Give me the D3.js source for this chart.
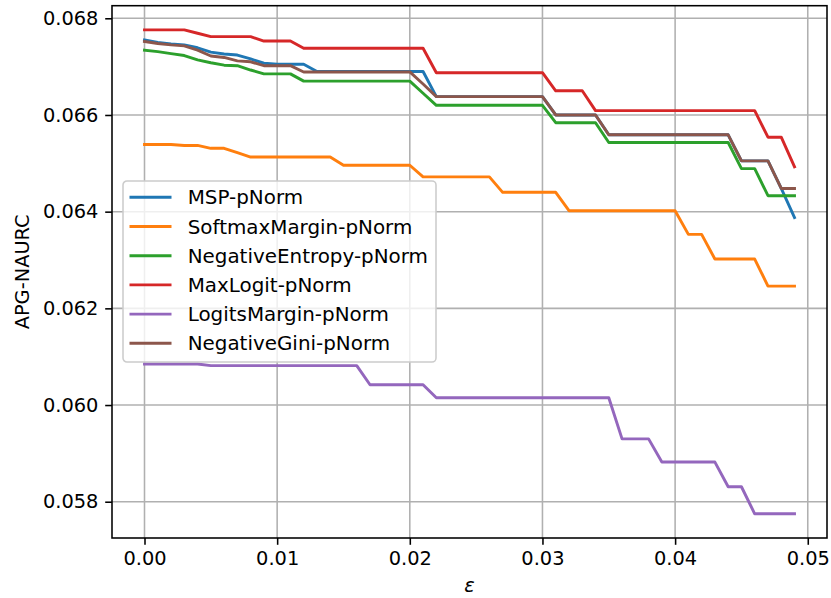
<!DOCTYPE html>
<html>
<head>
<meta charset="utf-8">
<script src="https://cdn.jsdelivr.net/npm/d3@7"></script>
<style>
  body { margin: 0; background: #fff; }
  svg { display: block; font-family: "DejaVu Sans", sans-serif; }
</style>
</head>
<body>
<svg id="chart" width="831" height="598"></svg>
<script>
const epsilons = d3.range(50).map(i => i / 1000);

const seriesNames = ["MSP-pNorm", "SoftmaxMargin-pNorm", "NegativeEntropy-pNorm",
                     "MaxLogit-pNorm", "LogitsMargin-pNorm", "NegativeGini-pNorm"];
const seriesColors = ["#1f77b4", "#ff7f0e", "#2ca02c", "#d62728", "#9467bd", "#8c564b"];

const mspValues = [
  0.06755, 0.06750, 0.06747, 0.06745, 0.06739, 0.06730, 0.06726, 0.06724, 0.06716, 0.06707,
  0.06705, 0.06705, 0.06705, 0.06690, 0.06690, 0.06690, 0.06690, 0.06690, 0.06690, 0.06690,
  0.06690, 0.06690, 0.06638, 0.06638, 0.06638, 0.06638, 0.06638, 0.06638, 0.06638, 0.06638,
  0.06638, 0.06600, 0.06600, 0.06600, 0.06600, 0.06559, 0.06559, 0.06559, 0.06559, 0.06559,
  0.06559, 0.06559, 0.06559, 0.06559, 0.06559, 0.06505, 0.06505, 0.06505, 0.06448, 0.06388
];
const softmaxMarginValues = [
  0.06539, 0.06539, 0.06539, 0.06537, 0.06537, 0.06531, 0.06531, 0.06522, 0.06513, 0.06513,
  0.06513, 0.06513, 0.06513, 0.06513, 0.06513, 0.06496, 0.06496, 0.06496, 0.06496, 0.06496,
  0.06496, 0.06472, 0.06472, 0.06472, 0.06472, 0.06472, 0.06472, 0.06440, 0.06440, 0.06440,
  0.06440, 0.06440, 0.06402, 0.06402, 0.06402, 0.06402, 0.06402, 0.06402, 0.06402, 0.06402,
  0.06402, 0.06353, 0.06353, 0.06302, 0.06302, 0.06302, 0.06302, 0.06246, 0.06246, 0.06246
];
const negEntropyValues = [
  0.06734, 0.06731, 0.06727, 0.06723, 0.06714, 0.06708, 0.06703, 0.06702, 0.06693, 0.06685,
  0.06685, 0.06685, 0.06670, 0.06670, 0.06670, 0.06670, 0.06670, 0.06670, 0.06670, 0.06670,
  0.06670, 0.06645, 0.06620, 0.06620, 0.06620, 0.06620, 0.06620, 0.06620, 0.06620, 0.06620,
  0.06620, 0.06584, 0.06584, 0.06584, 0.06584, 0.06543, 0.06543, 0.06543, 0.06543, 0.06543,
  0.06543, 0.06543, 0.06543, 0.06543, 0.06543, 0.06489, 0.06489, 0.06433, 0.06433, 0.06433
];
const maxLogitValues = [
  0.06776, 0.06776, 0.06776, 0.06776, 0.06769, 0.06762, 0.06762, 0.06762, 0.06762, 0.06753,
  0.06753, 0.06753, 0.06738, 0.06738, 0.06738, 0.06738, 0.06738, 0.06738, 0.06738, 0.06738,
  0.06738, 0.06738, 0.066875, 0.066875, 0.066875, 0.066875, 0.066875, 0.066875, 0.066875, 0.066875,
  0.066875, 0.06650, 0.06650, 0.06650, 0.06609, 0.06609, 0.06609, 0.06609, 0.06609, 0.06609,
  0.06609, 0.06609, 0.06609, 0.06609, 0.06609, 0.06609, 0.06609, 0.06554, 0.06554, 0.06493
];
const logitsMarginValues = [
  0.06085, 0.06085, 0.06085, 0.06085, 0.06085, 0.060815, 0.060815, 0.060815, 0.060815, 0.060815,
  0.060815, 0.060815, 0.060815, 0.060815, 0.060815, 0.060815, 0.060815, 0.06042, 0.06042, 0.06042,
  0.06042, 0.06042, 0.06015, 0.06015, 0.06015, 0.06015, 0.06015, 0.06015, 0.06015, 0.06015,
  0.06015, 0.06015, 0.06015, 0.06015, 0.06015, 0.06015, 0.05930, 0.05930, 0.05930, 0.05882,
  0.05882, 0.05882, 0.05882, 0.05882, 0.05831, 0.05831, 0.05775, 0.05775, 0.05775, 0.05775
];
const negGiniValues = [
  0.06752, 0.06748, 0.06745, 0.06743, 0.06734, 0.06722, 0.06719, 0.06712, 0.06710, 0.06702,
  0.06702, 0.06702, 0.06689, 0.06689, 0.06689, 0.06689, 0.06689, 0.06689, 0.06689, 0.06689,
  0.06689, 0.06664, 0.06638, 0.06638, 0.06638, 0.06638, 0.06638, 0.06638, 0.06638, 0.06638,
  0.06638, 0.06600, 0.06600, 0.06600, 0.06600, 0.06559, 0.06559, 0.06559, 0.06559, 0.06559,
  0.06559, 0.06559, 0.06559, 0.06559, 0.06559, 0.06505, 0.06505, 0.06505, 0.06448, 0.06448
];

const xTicks = [0.00, 0.01, 0.02, 0.03, 0.04, 0.05];
const yTicks = [0.058, 0.060, 0.062, 0.064, 0.066, 0.068];
const xLabel = "ε";
const yLabel = "APG-NAURC";

const allSeries = [mspValues, softmaxMarginValues, negEntropyValues,
                   maxLogitValues, logitsMarginValues, negGiniValues];

// ---------- layout ----------
const FS = 19.4;
const LFS = 19.9;
const margin = { left: 112, top: 5.7, right: 4, bottom: 60 };
const W = 831, H = 598;
const plotW = W - margin.left - margin.right;
const plotH = 538 - margin.top;

const svg = d3.select("#chart");
const g = svg.append("g").attr("transform", `translate(${margin.left},${margin.top})`);

const allVals = allSeries.flat();
const yMin = d3.min(allVals), yMax = d3.max(allVals);
const yPad = (yMax - yMin) * 0.05;
const xPad = (d3.max(epsilons) - d3.min(epsilons)) * 0.05;

const x = d3.scaleLinear().domain([d3.min(epsilons) - xPad, d3.max(epsilons) + xPad]).range([0, plotW]);
const y = d3.scaleLinear().domain([yMin - yPad, yMax + yPad]).range([plotH, 0]);

// grid
g.append("g").selectAll("line").data(xTicks).join("line")
  .attr("x1", d => x(d)).attr("x2", d => x(d)).attr("y1", 0).attr("y2", plotH)
  .attr("stroke", "#b0b0b0").attr("stroke-width", 1.56);
g.append("g").selectAll("line").data(yTicks).join("line")
  .attr("y1", d => y(d)).attr("y2", d => y(d)).attr("x1", 0).attr("x2", plotW)
  .attr("stroke", "#b0b0b0").attr("stroke-width", 1.56);

// lines
const line = d3.line().x((d, i) => x(epsilons[i])).y(d => y(d));
allSeries.forEach((vals, k) => {
  g.append("path").datum(vals)
    .attr("d", line)
    .attr("fill", "none")
    .attr("stroke", seriesColors[k])
    .attr("stroke-width", 2.92)
    .attr("stroke-linejoin", "round")
    .attr("stroke-linecap", "square");
});

// axes
const xAxis = d3.axisBottom(x).tickValues(xTicks).tickFormat(d3.format(".2f"))
  .tickSize(6.8).tickPadding(6.8).tickSizeOuter(0);
const yAxis = d3.axisLeft(y).tickValues(yTicks).tickFormat(d3.format(".3f"))
  .tickSize(6.8).tickPadding(6.8).tickSizeOuter(0);

const gx = g.append("g").attr("transform", `translate(0,${plotH})`).call(xAxis);
const gy = g.append("g").call(yAxis);
[gx, gy].forEach(a => {
  a.select(".domain").remove();
  a.selectAll(".tick line").attr("stroke", "#000").attr("stroke-width", 1.56);
  a.selectAll(".tick text").attr("fill", "#000").style("font-size", FS + "px")
    .style("font-family", "DejaVu Sans");
});

// frame
g.append("rect").attr("x", 0).attr("y", 0).attr("width", plotW).attr("height", plotH)
  .attr("fill", "none").attr("stroke", "#000").attr("stroke-width", 1.56);

// axis labels
svg.append("text")
  .attr("x", margin.left + plotW / 2).attr("y", 592)
  .attr("text-anchor", "middle")
  .style("font-size", FS + "px").style("font-style", "italic")
  .text(xLabel);
svg.append("text")
  .attr("transform", `translate(29,${margin.top + plotH / 2}) rotate(-90)`)
  .attr("text-anchor", "middle")
  .style("font-size", FS + "px")
  .text(yLabel);

// legend
const lg = svg.append("g").attr("transform", "translate(123,181)");
lg.append("rect").attr("x", 0).attr("y", 0).attr("width", 313).attr("height", 181)
  .attr("rx", 4).attr("ry", 4)
  .attr("fill", "#fff").attr("fill-opacity", 0.8)
  .attr("stroke", "#cccccc").attr("stroke-width", 1.56);
seriesNames.forEach((name, k) => {
  const cy = 16.3 + k * 29.2;
  lg.append("line").attr("x1", 6.5).attr("x2", 48.5).attr("y1", cy).attr("y2", cy)
    .attr("stroke", seriesColors[k]).attr("stroke-width", 2.92).attr("stroke-linecap", "butt");
  lg.append("text").attr("x", 64.7).attr("y", cy).attr("dy", "0.36em")
    .style("font-size", LFS + "px").attr("fill", "#000").text(name);
});
</script>
</body>
</html>
